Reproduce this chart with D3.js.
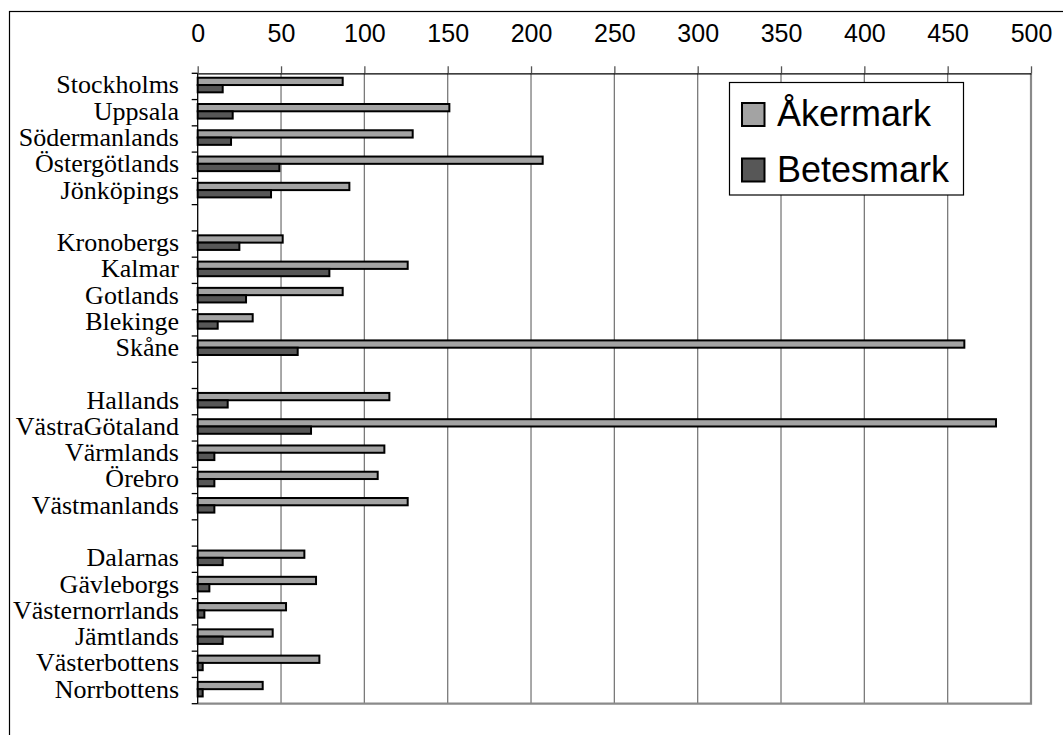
<!DOCTYPE html>
<html>
<head>
<meta charset="utf-8">
<script src="https://cdn.jsdelivr.net/npm/d3@7"></script>
<style>
  body { margin: 0; background: #fff; }
  svg { display: block; }
  .tick-label { font-family: "Liberation Sans", Arial, sans-serif; font-size: 25px; fill: #000; }
  .cat-label { font-family: "Liberation Serif", "Times New Roman", serif; font-size: 26px; fill: #000; }
  .legend-text { font-family: "Liberation Sans", Arial, sans-serif; font-size: 36px; fill: #000; }
</style>
</head>
<body>
<svg width="1063" height="735"></svg>
<script>
// Counties, with blank rows between the groups
const categories = [
    "Stockholms", "Uppsala", "Södermanlands", "Östergötlands", "Jönköpings", "",
    "Kronobergs", "Kalmar", "Gotlands", "Blekinge", "Skåne", "",
    "Hallands", "VästraGötaland", "Värmlands", "Örebro", "Västmanlands", "",
    "Dalarnas", "Gävleborgs", "Västernorrlands", "Jämtlands", "Västerbottens", "Norrbottens"
];

const akermark = [87, 151, 129, 207, 91, null, 51, 126, 87, 33, 460, null,
                  115, 479, 112, 108, 126, null, 64, 71, 53, 45, 73, 39];
const betesmark = [15, 21, 20, 49, 44, null, 25, 79, 29, 12, 60, null,
                   18, 68, 10, 10, 10, null, 15, 7, 4, 15, 3, 3];

const seriesNames = ["Åkermark", "Betesmark"];
const xTicks = [0, 50, 100, 150, 200, 250, 300, 350, 400, 450, 500];

const colors = { "Åkermark": "#a3a3a3", "Betesmark": "#575757" };

const svg = d3.select("svg");
const plot = { left: 197.7, right: 1031, top: 73.3, bottom: 703.7 };

// outer chart border (runs off the right and bottom edge)
svg.append("rect")
    .attr("x", 9.5).attr("y", 11.5)
    .attr("width", 1200).attr("height", 900)
    .attr("fill", "#fff")
    .attr("stroke", "#000")
    .attr("stroke-width", 1.2);

const x = d3.scaleLinear()
    .domain([0, 500])
    .range([plot.left, plot.right]);

const y = d3.scaleBand()
    .domain(d3.range(categories.length))
    .range([plot.top, plot.bottom])
    .paddingInner(0);

const ySub = d3.scaleBand()
    .domain(seriesNames)
    .range([0, y.bandwidth()])
    .paddingInner(0)
    .paddingOuter(0.8)
    .align(0.38);

// gridlines
svg.append("g")
    .selectAll("line")
    .data(xTicks.slice(1, -1))
    .join("line")
    .attr("x1", d => x(d)).attr("x2", d => x(d))
    .attr("y1", plot.top).attr("y2", plot.bottom)
    .attr("stroke", "#7a7a7a")
    .attr("stroke-width", 1.3);

// plot area right and bottom edge
svg.append("path")
    .attr("d", `M${x(500)},${plot.top}V${plot.bottom}H${plot.left}`)
    .attr("fill", "none")
    .attr("stroke", "#8a8a8a")
    .attr("stroke-width", 2.2);

// top axis
const xAxis = svg.append("g")
    .attr("transform", `translate(0,${plot.top})`)
    .call(d3.axisTop(x).tickValues(xTicks).tickSize(7).tickPadding(24.5).tickSizeOuter(0));
xAxis.attr("font-size", null).attr("font-family", null);
xAxis.select(".domain").attr("stroke", "#000").attr("stroke-width", 1.3);
xAxis.selectAll(".tick line").attr("stroke", "#555").attr("stroke-width", 1.3);
xAxis.selectAll(".tick text").attr("class", "tick-label");

// left axis with ticks between categories
const edges = d3.range(categories.length + 1).map(i => plot.top + i * y.step());
svg.append("line")
    .attr("x1", plot.left).attr("x2", plot.left)
    .attr("y1", plot.top).attr("y2", plot.bottom)
    .attr("stroke", "#000").attr("stroke-width", 1.3);
svg.append("g")
    .selectAll("line")
    .data(edges)
    .join("line")
    .attr("x1", plot.left - 6).attr("x2", plot.left)
    .attr("y1", d => d).attr("y2", d => d)
    .attr("stroke", "#000").attr("stroke-width", 1.3);

// category labels
svg.append("g")
    .selectAll("text")
    .data(categories)
    .join("text")
    .attr("class", "cat-label")
    .attr("x", 179)
    .attr("y", (d, i) => y(i) + y.bandwidth() / 2)
    .attr("dy", "0.27em")
    .attr("text-anchor", "end")
    .text(d => d);

// bars
const rows = categories.map((c, i) => ({ i, "Åkermark": akermark[i], "Betesmark": betesmark[i] }))
    .filter(r => r["Åkermark"] !== null);

svg.append("g")
    .selectAll("g")
    .data(rows)
    .join("g")
    .attr("transform", r => `translate(0,${y(r.i)})`)
    .selectAll("rect")
    .data(r => seriesNames.map(s => ({ s, v: r[s] })))
    .join("rect")
    .attr("x", x(0))
    .attr("y", d => ySub(d.s))
    .attr("width", d => x(d.v) - x(0))
    .attr("height", ySub.bandwidth())
    .attr("fill", d => colors[d.s])
    .attr("stroke", "#000")
    .attr("stroke-width", 2);

// legend
const legend = svg.append("g");
legend.append("rect")
    .attr("x", 729.5).attr("y", 82.5)
    .attr("width", 234).attr("height", 112.5)
    .attr("fill", "#fff")
    .attr("stroke", "#000")
    .attr("stroke-width", 1.2);

const items = legend.selectAll("g")
    .data(seriesNames)
    .join("g")
    .attr("transform", (d, i) => `translate(742,${103 + i * 55.5})`);
items.append("rect")
    .attr("width", 22.5).attr("height", 23)
    .attr("fill", d => colors[d])
    .attr("stroke", "#000")
    .attr("stroke-width", 2);
items.append("text")
    .attr("class", "legend-text")
    .attr("x", 35)
    .attr("y", 23)
    .text(d => d);
</script>
</body>
</html>
